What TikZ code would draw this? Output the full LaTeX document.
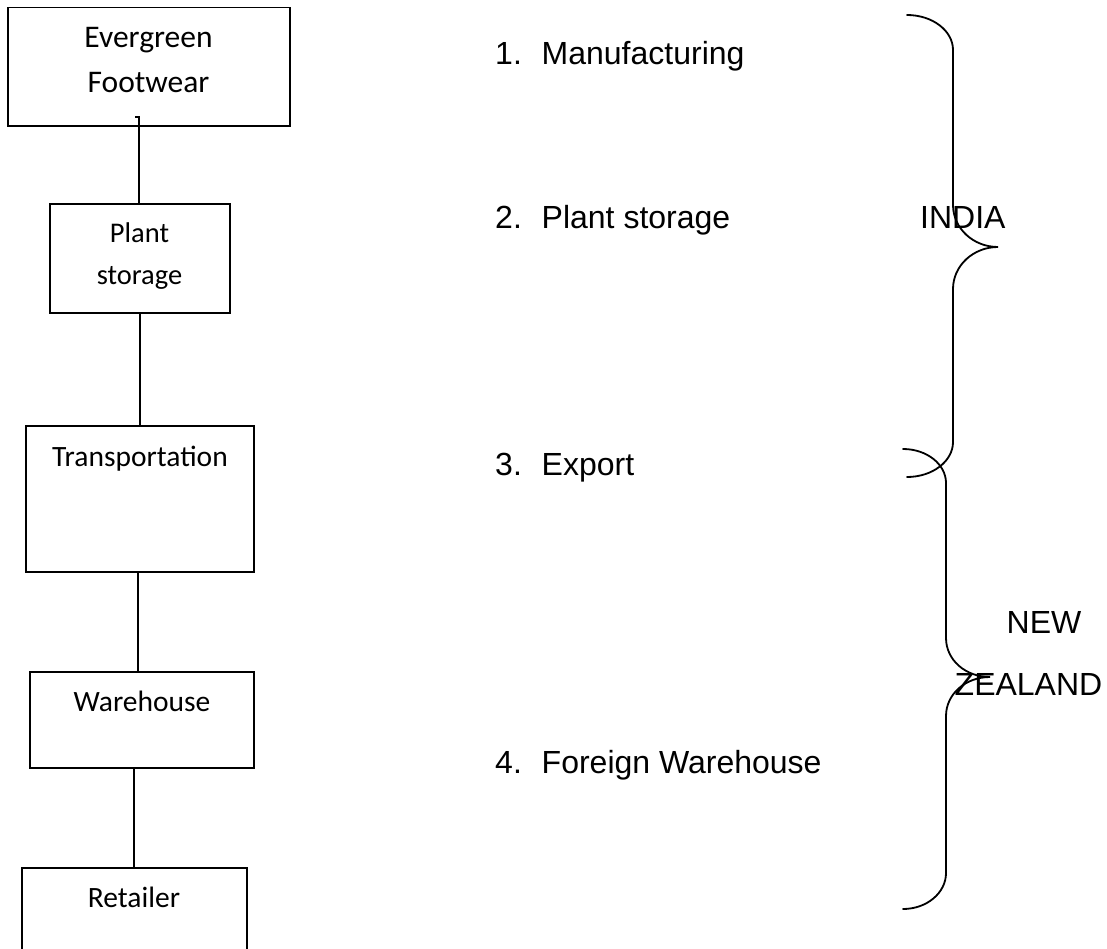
\documentclass[tikz,border=0pt]{standalone}
\usepackage{fontspec}
\newfontfamily\boxfont{Carlito}
\newfontfamily\listfont{Liberation Sans}
\begin{document}
\begin{tikzpicture}[x=1pt,y=-1pt,
  stage/.style={draw, line width=1.8pt, rectangle, inner sep=0pt, outer sep=0pt},
  boxtext/.style={anchor=base, inner sep=0pt, font=\boxfont\fontsize{29.5}{35}\selectfont},
  listtext/.style={anchor=base west, inner sep=0pt, font=\listfont\fontsize{32}{38}\selectfont},
  link/.style={line width=1.8pt},
  brace/.style={line width=1.8pt, line cap=round}]
\useasboundingbox (0,0) rectangle (1107,949);
\clip (0,0) rectangle (1107,949);

% stage boxes of the supply chain
\node[stage, minimum width=282, minimum height=118.5] (ever)   at (149,66.75) {};
\node[stage, minimum width=180, minimum height=109]   (plant)  at (140,258.5) {};
\node[stage, minimum width=228, minimum height=146]   (trans)  at (140,499)   {};
\node[stage, minimum width=224, minimum height=96]    (wareh)  at (142,720)   {};
\node[stage, minimum width=225, minimum height=102]   (retail) at (134.5,919) {};

% box captions
\node[boxtext, font=\boxfont\fontsize{31.5}{37}\selectfont] (evera) at (148.5,48) {Evergreen};
\node[boxtext, font=\boxfont\fontsize{31.5}{37}\selectfont] (everb) at (148.5,93) {Footwear};
\node[boxtext, font=\boxfont\fontsize{28.5}{34}\selectfont] (planta) at (139.5,243) {Plant};
\node[boxtext, font=\boxfont\fontsize{28.5}{34}\selectfont] (plantb) at (139.5,285) {storage};
\node[boxtext] (transt)  at (140,466) {Transportation};
\node[boxtext] (waret)   at (142,711) {Warehouse};
\node[boxtext] (retailt) at (134,907) {Retailer};

% connectors between the stages
\coordinate (tick) at (135,117);
\draw[link] (tick) -| ([xshift=-1pt]plant.north);
\draw[link] (plant.south) -- (trans.north);
\draw[link] ([xshift=-2pt]trans.south) -- ([xshift=-4pt]wareh.north);
\draw[link] ([xshift=-8pt]wareh.south) -- ([xshift=-0.5pt]retail.north);

% numbered list of steps
\node[listtext] (n1) at (495,65)  {1.};
\node[listtext] (s1) at (541.5,65)  {Manufacturing};
\node[listtext] (n2) at (495,229) {2.};
\node[listtext] (s2) at (541.5,229) {Plant storage};
\node[listtext] (n3) at (495,475) {3.};
\node[listtext] (s3) at (541.5,475) {Export};
\node[listtext] (n4) at (495,773) {4.};
\node[listtext] (s4) at (541.5,773) {Foreign Warehouse};

% brace for the steps in India
\draw[brace] (907,15) .. controls (932.4,15) and (953,30.7) .. (953,50)
  -- (953,205) .. controls (953,228.2) and (973.1,247) .. (998,247)
  .. controls (973.1,247) and (953,265.8) .. (953,289)
  -- (953,442) .. controls (953,461.3) and (932.4,477) .. (907,477);

% brace for the steps in New Zealand
\draw[brace] (903,449) .. controls (926.7,449) and (946,464.2) .. (946,483)
  -- (946,638) .. controls (946,660.1) and (965.7,677) .. (990,677)
  .. controls (965.7,677) and (946,693.9) .. (946,716)
  -- (946,873) .. controls (946,892.9) and (926.7,909) .. (903,909);

% region labels
\node[listtext] (india) at (920,229)    {INDIA};
\node[listtext] (nza)   at (1006.5,633) {NEW};
\node[listtext] (nzb)   at (954.5,695)  {ZEALAND};
\end{tikzpicture}
\end{document}
